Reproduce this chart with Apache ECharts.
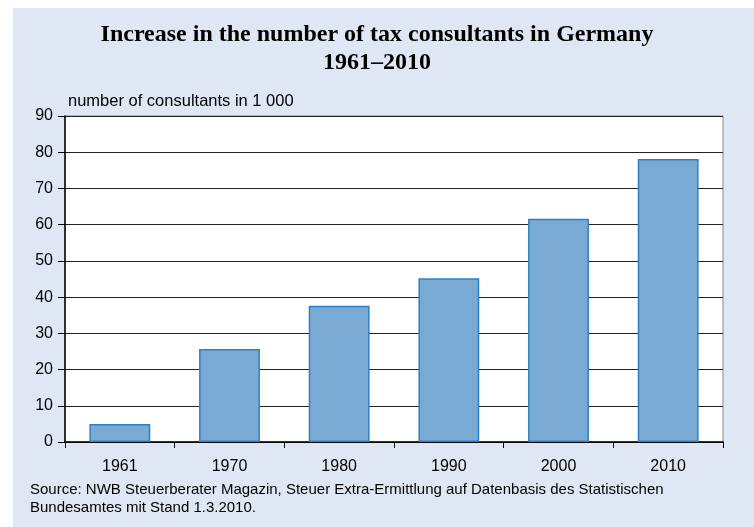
<!DOCTYPE html>
<html>
<head>
<meta charset="utf-8">
<script src="https://cdn.jsdelivr.net/npm/echarts@6/dist/echarts.min.js"></script>
<style>
  html, body { margin: 0; padding: 0; background: #fff; }
  #chart-wrapper { width: 754px; height: 527px; }
</style>
</head>
<body>
<div id="chart-wrapper"></div>
<script>
// values (in 1 000 consultants)
const years = ["1961", "1970", "1980", "1990", "2000", "2010"];
const consultants = [5.0, 25.7, 37.6, 45.2, 61.6, 78.1];
const titleText = "Increase in the number of tax consultants in Germany\n1961\u20132010";
const axisName = "number of consultants in 1 000";
const sourceLines = [
  "Source: NWB Steuerberater Magazin, Steuer Extra-Ermittlung auf Datenbasis des Statistischen",
  "Bundesamtes mit Stand 1.3.2010."
];

const chartDom = document.getElementById("chart-wrapper");
const chart = echarts.init(chartDom, null, { renderer: "canvas" });

const sans = "'Liberation Sans', Arial, sans-serif";

const option = {
  backgroundColor: "#fff",
  animation: false,
  graphic: [
    {
      type: "rect",
      z: -10,
      shape: { x: 13, y: 8, width: 741, height: 519 },
      style: { fill: "#e0e7f4" }
    },
    {
      type: "text",
      left: 30,
      top: 481,
      style: {
        text: sourceLines.join("\n"),
        font: "15px " + sans,
        lineHeight: 18,
        fill: "#000"
      }
    }
  ],
  title: {
    text: titleText,
    left: "center",
    top: 16,
    textStyle: {
      fontFamily: "'Liberation Serif', 'Times New Roman', serif",
      fontWeight: "bold",
      fontSize: 24,
      lineHeight: 28,
      color: "#000"
    }
  },
  grid: {
    left: 65,
    right: 31,
    top: 116,
    bottom: 85,
    show: true,
    backgroundColor: "#fff",
    borderColor: "#888",
    borderWidth: 1
  },
  xAxis: {
    type: "category",
    data: years,
    boundaryGap: true,
    axisLine: { lineStyle: { color: "#000", width: 1.5 } },
    axisTick: { show: true, length: 6, lineStyle: { color: "#000" } },
    axisLabel: {
      margin: 17,
      fontSize: 16,
      fontFamily: sans,
      color: "#000"
    }
  },
  yAxis: {
    type: "value",
    min: 0,
    max: 90,
    interval: 10,
    name: axisName,
    nameLocation: "end",
    nameGap: 6,
    nameTextStyle: {
      align: "left",
      verticalAlign: "bottom",
      padding: [0, 0, 0, 3],
      fontSize: 16.5,
      fontFamily: sans,
      color: "#000"
    },
    axisLine: { show: true, lineStyle: { color: "#000", width: 1.5 } },
    axisTick: { show: true, length: 7, lineStyle: { color: "#000" } },
    axisLabel: {
      margin: 12,
      fontSize: 16,
      fontFamily: sans,
      color: "#000"
    },
    splitLine: { show: true, lineStyle: { color: "#222", width: 1 } }
  },
  series: [
    {
      type: "bar",
      data: consultants,
      barWidth: "55.5%",
      itemStyle: {
        color: "#79aad4",
        borderColor: "#2f80c3",
        borderWidth: 1.5
      }
    }
  ]
};

chart.setOption(option);
</script>
</body>
</html>
